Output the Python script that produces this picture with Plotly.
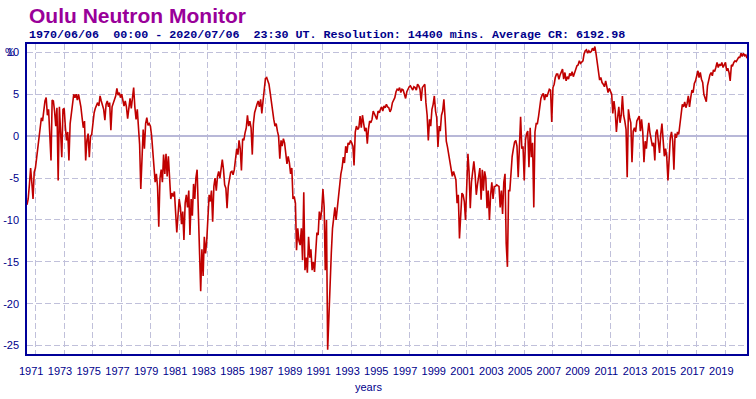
import pandas as pd
import plotly.graph_objects as go

# Monthly readings (% deviation from average count rate)
v1970s = [
    -8.2, -7.5, -5.8, -3.8, -5.5, -7.5, -4.3,                               # 1970 Jun-Dec
    -3.8, -2.6, -1.5, -0.5, 1.2, 2.2, 1.8, 3.0, 4.2, 4.6, 2.5, 3.2,         # 1971
    0.5, -2.9, 4.3, 4.2, 3.0, 1.2, 3.4, -5.3, 3.5, 1.0, -2.5, 3.2,          # 1972
    3.3, 1.0, -0.5, 0.5, -2.9, 1.5, 2.7, 3.9, 5.0, 4.6, 5.0, 4.3,           # 1973
    5.0, 4.2, 3.5, 2.2, 1.0, 1.8, -2.9, -0.5, 0.3, -2.5, 0.0, 0.2,          # 1974
    1.8, 2.8, 3.3, 3.8, 4.0, 3.6, 4.8, 4.2, 3.8, 3.2, 1.9, 3.8,             # 1975
    4.2, 3.5, 4.0, 0.7, 3.5, 4.0, 4.2, 4.8, 5.7, 4.9, 5.2, 4.6,             # 1976
    5.0, 4.0, 3.6, 4.2, 3.5, 2.1, 3.8, 4.5, 3.3, 4.8, 5.8, 3.5,             # 1977
    2.0, 3.2, 0.5, -1.0, -6.3, -1.2, 0.8, -1.5, 1.5, 2.2, 1.3, 1.5,         # 1978
    1.2, 0.0, -2.0, -3.5, -5.5, -4.5, -6.0, -10.8, -5.0, -4.0, -5.5, -2.2,  # 1979
]
v1980s = [
    -4.5, -2.1, -4.8, -2.4, -4.5, -7.5, -6.8, -7.2, -6.6, -9.0, -11.5, -9.5,       # 1980
    -7.5, -8.5, -10.5, -9.0, -12.4, -8.0, -7.0, -8.5, -6.5, -11.8, -7.5, -9.5,     # 1981
    -5.7, -7.5, -5.0, -4.0, -9.5, -12.0, -18.5, -13.5, -16.7, -12.0, -14.0, -12.5, # 1982
    -9.5, -7.0, -7.8, -6.5, -10.2, -6.0, -5.0, -6.5, -4.8, -4.2, -5.0, -3.8,       # 1983
    -2.8, -4.0, -5.8, -6.2, -8.6, -6.0, -5.0, -4.3, -4.2, -4.6, -4.0, -3.0,        # 1984
    -1.5, -2.2, -0.5, -1.5, -4.1, -0.3, -0.5, 0.4, 1.0, 2.5, 1.2, 1.8,             # 1985
    1.0, -2.2, 1.5, 2.8, 3.4, 3.8, 4.2, 3.5, 4.4, 2.7, 4.2, 5.4,                   # 1986
    6.9, 7.0, 6.6, 6.2, 5.2, 4.0, 2.8, 2.0, 1.2, 1.5, 0.6, 0.0,                    # 1987
    -2.7, -0.5, -1.2, -0.3, -0.8, -2.0, -3.3, -2.4, -3.2, -4.5, -3.8, -7.5,        # 1988
    -7.2, -8.0, -13.6, -11.0, -12.5, -13.0, -11.0, -14.8, -6.7, -16.0, -14.5, -16.3,  # 1989
]
v1990s = [
    -12.0, -14.5, -13.5, -16.0, -15.0, -16.2, -13.0, -11.5, -11.8, -9.0, -10.0, -8.8,  # 1990
    -6.3, -8.5, -16.0, -10.0, -25.5, -21.0, -16.0, -14.0, -11.0, -9.8, -8.5, -10.0,    # 1991
    -8.5, -7.0, -6.0, -4.5, -3.8, -2.5, -3.2, -1.2, -2.0, -0.8, -1.0, -0.5,            # 1992
    -0.8, -1.2, -3.5, 0.5, 1.2, 0.8, 1.0, 2.4, 1.0, 2.5, 1.5, 0.6,                     # 1993
    1.0, -0.9, 0.8, 1.8, 1.6, 2.0, 3.0, 2.6, 2.3, 2.0, 3.0, 2.8,                       # 1994
    3.2, 3.5, 3.0, 3.6, 3.4, 3.8, 3.5, 3.4, 2.9, 3.2, 4.0, 4.3,                        # 1995
    4.6, 5.3, 5.6, 5.5, 5.8, 5.2, 5.6, 5.5, 5.0, 4.5, 5.3, 5.6,                        # 1996
    5.9, 6.0, 5.7, 5.5, 5.9, 5.8, 5.5, 6.2, 6.0, 5.6, 4.2, 5.8,                        # 1997
    6.0, 6.2, 4.0, 2.5, -0.5, 2.0, 1.2, 3.2, 3.8, 4.8, 3.0, 2.2,                       # 1998
    -1.3, 1.2, 0.6, 2.5, 3.0, 4.4, 2.2, -0.6, -1.3, -2.2, -2.7, -3.6,                  # 1999
]
v2000s = [
    -4.8, -4.2, -4.6, -5.2, -8.0, -7.0, -12.2, -8.5, -6.8, -7.0, -7.8, -10.0,   # 2000
    -5.0, -2.1, -4.2, -8.6, -5.5, -4.0, -3.0, -4.5, -7.0, -5.8, -4.5, -3.8,     # 2001
    -7.6, -4.0, -6.5, -4.2, -5.0, -8.6, -6.5, -10.0, -7.0, -5.5, -7.5, -6.0,    # 2002
    -6.0, -5.8, -5.9, -6.0, -8.5, -6.5, -9.3, -5.5, -4.5, -12.8, -15.6, -6.5,   # 2003
    -6.5, -4.0, -2.4, -1.5, -0.7, -0.5, -1.2, -4.9, -1.0, 2.3, -1.5, -1.2,      # 2004
    -5.3, -0.5, 0.3, 0.6, -3.7, 1.0, -2.5, -0.8, -8.5, 0.5, 1.5, 1.5,           # 2005
    2.4, 3.8, 4.5, 4.9, 5.1, 4.3, 5.0, 4.7, 5.2, 5.6, 5.5, 1.7,                 # 2006
    5.8, 6.2, 7.0, 7.4, 7.4, 6.8, 7.3, 7.7, 8.0, 6.8, 7.6, 6.6,                 # 2007
    7.1, 6.8, 7.5, 7.2, 7.7, 7.1, 7.5, 8.0, 8.4, 8.5, 9.0, 8.7,                 # 2008
    8.8, 9.0, 9.8, 10.2, 10.3, 9.9, 10.2, 10.0, 10.1, 10.5, 10.2, 10.7,         # 2009
]
v2010s = [
    9.8, 8.6, 7.5, 6.7, 7.0, 6.4, 6.2, 5.9, 6.6, 5.8, 5.2, 5.7,                 # 2010
    5.2, 5.0, 2.7, 4.2, 3.0, 0.5, 2.2, 3.5, 1.6, 2.5, 4.8, 2.5,                 # 2011
    1.8, 0.8, -4.9, 3.2, 2.2, 1.6, -3.1, 0.6, 1.0, 0.5, 1.8, 2.2,               # 2012
    2.4, 0.6, 2.0, 0.5, -3.1, -0.6, -1.5, 0.2, 1.6, 0.4, -0.3, -1.2,            # 2013
    -0.8, -2.9, 0.4, 0.8, -0.6, -2.0, 0.2, 1.5, -0.5, -2.4, -1.5, -2.5,         # 2014
    -5.3, -1.8, -0.2, 0.5, -0.6, -4.0, 0.3, -0.2, 0.5, 0.2, 1.5, 2.2,           # 2015
    3.8, 3.5, 4.1, 3.4, 3.9, 4.8, 3.5, 4.6, 5.5, 5.2, 6.3, 6.6,                 # 2016
    7.3, 7.8, 7.0, 7.6, 6.8, 6.4, 5.0, 4.6, 4.1, 6.0, 6.8, 7.3,                 # 2017
    7.6, 7.2, 7.9, 7.7, 8.2, 8.8, 8.2, 8.6, 8.4, 8.8, 8.2, 8.5,                 # 2018
    8.8, 7.8, 8.1, 7.6, 6.6, 8.5, 8.4, 8.8, 9.0, 8.9, 9.1, 9.4,                 # 2019
]
v2020s = [9.4, 9.9, 9.5, 9.9, 9.6, 9.7, 9.3]                                   # 2020 Jan-Jul

y_ticks = [10, 5, 0, -5, -10, -15, -20, -25]
x_tick_years = list(range(1971, 2020, 2))

values = v1970s + v1980s + v1990s + v2000s + v2010s + v2020s
dates = pd.date_range("1970-06-06", periods=len(values), freq=pd.DateOffset(months=1))

NAVY = "#000099"
TEXT = "#00008b"
GRID = "#c0c0da"

fig = go.Figure()
fig.add_trace(go.Scatter(
    x=dates, y=values, mode="lines",
    line=dict(color="#c00000", width=1.6),
    hoverinfo="x+y", showlegend=False,
))

fig.update_layout(
    width=756, height=399,
    margin=dict(l=27, r=9, t=44, b=45, pad=0, autoexpand=False),
    paper_bgcolor="white", plot_bgcolor="white",
    font=dict(family="Liberation Sans, Arial, sans-serif", size=11, color=TEXT),
)

fig.update_xaxes(
    type="date", automargin=False,
    range=["1970-06-06", "2020-07-06"],
    tickmode="array",
    tickvals=[f"{y}-01-01" for y in x_tick_years],
    ticktext=[str(y) for y in x_tick_years],
    showgrid=True, gridcolor=GRID, gridwidth=1, griddash="6px,3px",
    showline=True, linecolor=NAVY, linewidth=1.5, mirror=True,
    ticks="", zeroline=False,
    tickfont=dict(size=11, color=TEXT, family="Liberation Sans, Arial, sans-serif"),
    ticklabelshift=-4, ticklabelstandoff=6,
)
fig.update_yaxes(
    automargin=False,
    range=[-26, 11],
    tickmode="array",
    tickvals=y_ticks,
    ticktext=[str(v) for v in y_ticks],
    showgrid=True, gridcolor=GRID, gridwidth=1, griddash="6px,3px",
    zeroline=True, zerolinecolor="#b8b8d8", zerolinewidth=1.5,
    showline=True, linecolor=NAVY, linewidth=1.5, mirror=True,
    ticks="",
    tickfont=dict(size=11, color=TEXT, family="Liberation Sans, Arial, sans-serif"),
    ticklabelstandoff=4,
)

fig.add_annotation(
    text="<b>Oulu Neutron Monitor</b>", xref="paper", yref="paper",
    x=0, y=(354 - 15) / 310, xanchor="left", yanchor="middle", showarrow=False,
    font=dict(family="Liberation Sans, Arial, sans-serif", size=21, color="#990099"),
)
fig.add_annotation(
    text="<b>1970/06/06\u00a0\u00a000:00\u00a0-\u00a02020/07/06\u00a0\u00a023:30\u00a0UT.\u00a0Resolution:\u00a014400\u00a0mins.\u00a0Average\u00a0CR:\u00a06192.98</b>",
    xref="paper", yref="paper",
    x=0, y=(354 - 35) / 310, xanchor="left", yanchor="middle", showarrow=False,
    font=dict(family="Liberation Mono, DejaVu Sans Mono, monospace", size=11.7, color=TEXT),
)
fig.add_annotation(
    text="%", xref="paper", yref="y",
    x=(10 - 27) / 720, y=10, xanchor="center", yanchor="middle", showarrow=False,
    font=dict(family="Liberation Sans, Arial, sans-serif", size=11, color=TEXT),
)
fig.add_annotation(
    text="years", xref="paper", yref="paper",
    x=(368 - 27) / 720, y=(354 - 387) / 310, xanchor="center", yanchor="middle", showarrow=False,
    font=dict(family="Liberation Sans, Arial, sans-serif", size=11, color=TEXT),
)

fig.write_html(
    "out.html",
    config={"displayModeBar": False},
    post_script="document.documentElement.style.margin='0';document.body.style.margin='0';document.body.style.overflow='hidden';",
)
